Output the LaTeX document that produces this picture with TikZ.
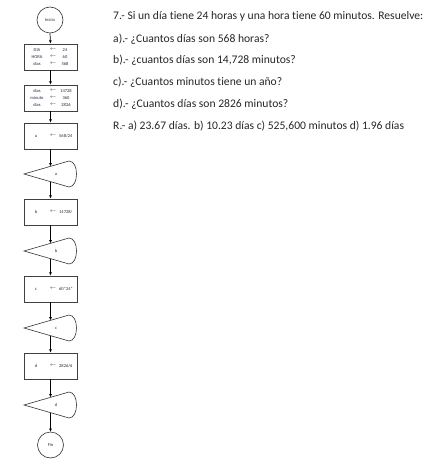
\documentclass[tikz,border=0pt]{standalone}
\usepackage{fontspec}
\setmainfont{Carlito}[Ligatures=NoCommon]
\usetikzlibrary{arrows.meta}
\definecolor{txt}{RGB}{40,40,60}
\tikzset{
  flow/.style={draw=black, line width=0.7pt, -{Latex[length=3.2pt,width=3pt]}},
  boxnode/.style={draw=black!75, line width=0.8pt, minimum width=53pt, minimum height=26pt, inner sep=0pt},
  term/.style={draw=black!80, line width=0.6pt, circle, minimum size=26pt, inner sep=0pt, font=\fontsize{4.5}{5}\selectfont, text=txt},
  tiny/.style={font=\fontsize{4.5}{5}\selectfont, text=txt, inner sep=0pt},
  qtext/.style={font=\fontsize{11.6}{13}\selectfont, anchor=base west, inner sep=0pt, text=black!85}
}
% display symbol: #1 name, #2 top y, #3 label
\newcommand\displaysym[3]{%
  \node[minimum width=53pt, minimum height=26pt, inner sep=0pt] (#1) at (50.5,#2+13) {};
  \draw[black!80, line width=0.6pt] (24,#2+13) -- (69,#2) .. controls (79,#2) and (79,#2+26) .. (69,#2+26) -- cycle;
  \coordinate (#1-in) at (50.5,#2+13-7.66);
  \coordinate (#1-out) at (50.5,#2+13+7.66);
  \node[tiny] (#1-lbl) at (56,#2+13) {#3};
}
\begin{document}
\begin{tikzpicture}[x=1pt,y=-1pt]
\useasboundingbox (0,0) rectangle (430,462);
% terminals
\node[term] (ini) at (50,20) {Inicio};
% box 1
\node[boxnode] (b1) at (50.5,57) {};
\node[tiny] (b1l1) at (37,50) {DIA};
\node[tiny] (b1a1) at (53,50) {$\leftarrow$};
\node[tiny] (b1v1) at (65,50) {24};
\node[tiny] (b1l2) at (37,57) {HORA};
\node[tiny] (b1a2) at (53,57) {$\leftarrow$};
\node[tiny] (b1v2) at (65,57) {60};
\node[tiny] (b1l3) at (37,64) {dias};
\node[tiny] (b1a3) at (53,64) {$\leftarrow$};
\node[tiny] (b1v3) at (65,64) {568};
% box 2
\node[boxnode] (b2) at (50.5,98) {};
\node[tiny] (b2l1) at (37,91) {dias};
\node[tiny] (b2a1) at (53,91) {$\leftarrow$};
\node[tiny] (b2v1) at (66,91) {14728};
\node[tiny] (b2l2) at (37,98) {minuto};
\node[tiny] (b2a2) at (53,98) {$\leftarrow$};
\node[tiny] (b2v2) at (66,98) {360};
\node[tiny] (b2l3) at (37,105) {dias};
\node[tiny] (b2a3) at (53,105) {$\leftarrow$};
\node[tiny] (b2v3) at (66,105) {2826};
% box 3
\node[boxnode] (b3) at (50.5,136) {};
\node[tiny] (b3l) at (36,136) {a};
\node[tiny] (b3a) at (53,136) {$\leftarrow$};
\node[tiny, anchor=west] (b3v) at (59,136) {568/24};
\displaysym{da}{161}{a}
% box b
\node[boxnode] (bb) at (50.5,212) {};
\node[tiny] (bbl) at (36,212) {b};
\node[tiny] (bba) at (53,212) {$\leftarrow$};
\node[tiny, anchor=west] (bbv) at (59,212) {14728/};
\displaysym{db}{238}{b}
% box c
\node[boxnode] (bc) at (50.5,289) {};
\node[tiny] (bcl) at (36,289) {c};
\node[tiny] (bca) at (53,289) {$\leftarrow$};
\node[tiny, anchor=west] (bcv) at (59,289) {60*24*};
\displaysym{dc}{315}{c}
% box d
\node[boxnode] (bd) at (50.5,366) {};
\node[tiny] (bdl) at (36,366) {d};
\node[tiny] (bda) at (53,366) {$\leftarrow$};
\node[tiny, anchor=west] (bdv) at (59,366) {2826/6};
\displaysym{dd}{392}{d}
\node[term] (fin) at (50.5,445) {Fin};
% connectors
\draw[flow] (ini.south) -- (b1.north);
\draw[flow] (b1.south) -- (b2.north);
\draw[flow] (b2.south) -- (b3.north);
\draw[flow] (b3.south) -- (da-in);
\draw[flow] (da-out) -- (bb.north);
\draw[flow] (bb.south) -- (db-in);
\draw[flow] (db-out) -- (bc.north);
\draw[flow] (bc.south) -- (dc-in);
\draw[flow] (dc-out) -- (bd.north);
\draw[flow] (bd.south) -- (dd-in);
\draw[flow] (dd-out) -- (fin.north);
% question text
\node[qtext] (q0) at (113,19.5) {7.- Si un día tiene 24 horas y una hora tiene 60 minutos. Resuelve:};
\node[qtext] (q1) at (113,42.5) {a).- ¿Cuantos días son 568 horas?};
\node[qtext] (q2) at (113,63.5) {b).- ¿cuantos días son 14,728 minutos?};
\node[qtext] (q3) at (113,85.5) {c).- ¿Cuantos minutos tiene un año?};
\node[qtext] (q4) at (113,107.5) {d).- ¿Cuantos días son 2826 minutos?};
\node[qtext] (q5) at (113,129.5) {R.- a) 23.67 días. b) 10.23 días c) 525,600 minutos d) 1.96 días};
\end{tikzpicture}
\end{document}
